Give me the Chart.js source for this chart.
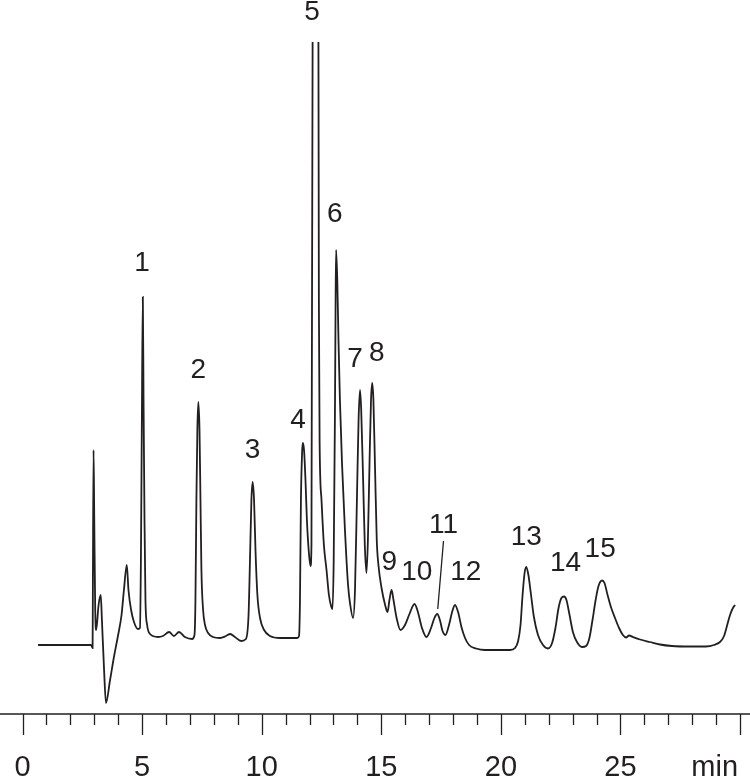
<!DOCTYPE html>
<html lang="en">
<head>
    <meta charset="UTF-8">
    <title>Chromatogram</title>
    <script src="https://cdn.jsdelivr.net/npm/chart.js"></script>
    <style>
        html, body { margin: 0; padding: 0; background: #fff; }
        #wrap { position: relative; width: 750px; height: 777px; }
    </style>
</head>
<body>
    <div id="wrap">
        <canvas id="chromChart"></canvas>
    </div>

    <script>
        // Detector trace (time in min, signal in arbitrary units)
        const retentionTime = [
            0.65, 1.57, 2.86, 2.93, 2.94, 2.97, 3.00, 3.04, 3.08, 3.18, 3.27, 3.32, 3.41, 3.49, 3.66, 3.83,
            3.99, 4.14, 4.24, 4.36, 4.43, 4.54, 4.66, 4.83, 4.91, 4.95, 4.99, 5.03, 5.06, 5.10, 5.14, 5.21,
            5.33, 5.67, 5.87, 6.13, 6.33, 6.54, 6.79, 7.09, 7.19, 7.23, 7.27, 7.31, 7.35, 7.40, 7.44, 7.48,
            7.55, 7.63, 7.76, 7.96, 8.26, 8.51, 8.68, 8.88, 9.14, 9.34, 9.45, 9.51, 9.57, 9.62, 9.68, 9.74,
            9.82, 9.93, 10.10, 10.35, 10.77, 11.48, 11.56, 11.60, 11.64, 11.69, 11.72, 11.77, 11.83, 11.89,
            11.98, 12.04, 12.08, 12.13, 12.25, 12.37, 12.39, 12.42, 12.50, 12.60, 12.71, 12.81, 12.90, 12.96,
            13.01, 13.06, 13.09, 13.11, 13.16, 13.21, 13.27, 13.36, 13.48, 13.61, 13.69, 13.82, 13.90, 13.98,
            14.05, 14.11, 14.16, 14.24, 14.31, 14.38, 14.44, 14.51, 14.57, 14.62, 14.67, 14.74, 14.81, 14.88,
            15.01, 15.16, 15.26, 15.34, 15.43, 15.51, 15.64, 15.80, 15.99, 16.16, 16.39, 16.53, 16.70, 16.89,
            17.08, 17.22, 17.34, 17.45, 17.56, 17.68, 17.83, 17.96, 18.08, 18.21, 18.35, 18.50, 18.67, 18.96,
            19.34, 19.96, 20.38, 20.59, 20.72, 20.82, 20.90, 20.99, 21.06, 21.15, 21.26, 21.38, 21.55, 21.76,
            21.97, 22.14, 22.28, 22.41, 22.53, 22.64, 22.74, 22.87, 23.01, 23.18, 23.39, 23.56, 23.70, 23.83,
            23.96, 24.08, 24.23, 24.33, 24.46, 24.60, 24.77, 24.94, 25.10, 25.23, 25.36, 25.52, 25.82, 26.23,
            26.65, 27.15, 27.91, 28.57, 28.91, 29.16, 29.33, 29.45, 29.58, 29.70, 29.79
        ];
        const signal = [
            0, 0, 0, -0.3, 4.5, 19.5, 12.5, 3.5, 1.5, 4.0, 5.0, 2.5, -2.5, -5.8, -3.5, -1.1,
            0.9, 3.0, 5.5, 8.0, 5.5, 3.5, 2.3, 1.6, 1.7, 8.5, 22.5, 34.8, 24.5, 12.5, 4.5, 2.0,
            1.1, 0.8, 0.9, 1.3, 0.9, 1.3, 0.8, 0.6, 1.0, 4.5, 14.5, 21.5, 24.3, 21.5, 14.5, 7.5,
            3.5, 2.0, 1.2, 0.8, 0.7, 0.9, 1.1, 0.8, 0.4, 0.6, 3.0, 8.5, 14.5, 16.3, 14.5, 9.5,
            5.0, 2.7, 1.5, 0.9, 0.7, 0.7, 0.9, 4.5, 14.5, 19.3, 20.2, 19.5, 16.5, 12.5,
            9.0, 7.9, 10.0, 62, 70, 62, 34.5, 20.5, 14.5, 10.0, 7.5, 5.0, 3.9, 3.6,
            8.5, 22.5, 34.5, 39.5, 36.5, 30.5, 24.5, 18.0, 11.5, 6.0, 4.2, 2.7, 5.5, 14.5,
            22.5, 25.5, 23.5, 16.5, 10.0, 7.2, 10.5, 18.5, 24.5, 26.2, 24.5, 17.5, 10.5, 8.0,
            5.7, 4.0, 3.3, 4.5, 5.5, 4.5, 2.7, 1.5, 2.0, 3.0, 4.1, 3.3, 1.7, 0.8,
            1.7, 2.7, 3.1, 2.5, 1.4, 1.0, 2.0, 3.3, 4.0, 3.3, 1.8, 0.7, 0, -0.35,
            -0.5, -0.5, -0.5, -0.3, 0.4, 2.0, 4.8, 7.2, 7.8, 7.0, 5.0, 2.8, 1.0, 0,
            -0.35, 0.2, 1.7, 3.7, 4.7, 4.85, 4.5, 3.0, 1.3, 0.3, -0.2, -0.1, 0.7, 2.5,
            4.5, 5.9, 6.45, 6.2, 5.0, 3.8, 2.7, 1.7, 1.0, 0.75, 0.95, 0.8, 0.55, 0.3,
            0.05, -0.1, -0.15, -0.15, 0, 0.3, 0.9, 1.9, 3.0, 3.7, 4.0
        ];

        // Peak numbers and where their labels sit (time, signal level)
        const peakNames = ['1', '2', '3', '4', '5', '6', '7', '8', '9', '10', '11', '12', '13', '14', '15'];
        const labelTime = [5.00, 7.35, 9.62, 11.52, 12.10, 13.06, 13.90, 14.81, 15.33, 16.48, 17.60, 18.53, 21.06, 22.70, 24.15];
        const labelLevel = [38.2, 27.5, 19.5, 22.5, 63.3, 43.1, 28.6, 29.2, 8.3, 7.3, 12.0, 7.3, 10.8, 8.2, 9.6];
        // leader line from label 11 down to its peak
        const leaderTime = [17.60, 17.36];
        const leaderLevel = [10.4, 3.6];

        // Time axis
        const majorTicks = [0, 5, 10, 15, 20, 25];
        const minorStep = 1;
        const axisEnd = 30;
        const axisUnit = 'min';

        const points = retentionTime.map((t, i) => ({ x: t, y: signal[i] }));

        const FONT = '"Liberation Sans", Arial, Helvetica, sans-serif';
        const INK = '#231f20';

        const axisPlugin = {
            id: 'timeAxis',
            afterDraw(chart) {
                const ctx = chart.ctx;
                const xs = chart.scales.x;
                const ys = chart.scales.y;
                const axisY = chart.chartArea.bottom;

                ctx.save();
                ctx.strokeStyle = INK;
                ctx.fillStyle = INK;

                // axis line
                ctx.lineWidth = 1.5;
                ctx.beginPath();
                ctx.moveTo(0, axisY);
                ctx.lineTo(chart.width, axisY);
                ctx.stroke();

                // ticks
                ctx.lineWidth = 1.3;
                for (let t = 0; t <= axisEnd; t += minorStep) {
                    const x = Math.round(xs.getPixelForValue(t)) + 0.5;
                    const len = t % 5 === 0 ? 21 : 11;
                    ctx.beginPath();
                    ctx.moveTo(x, axisY);
                    ctx.lineTo(x, axisY + len);
                    ctx.stroke();
                }

                // tick labels
                ctx.font = '29px ' + FONT;
                ctx.textAlign = 'center';
                ctx.textBaseline = 'alphabetic';
                majorTicks.forEach(t => {
                    ctx.fillText(String(t), xs.getPixelForValue(t), axisY + 62);
                });
                ctx.textAlign = 'right';
                ctx.fillText(axisUnit, xs.getPixelForValue(axisEnd) - 2, axisY + 62);

                // peak labels
                ctx.font = '28px ' + FONT;
                ctx.textAlign = 'center';
                ctx.textBaseline = 'middle';
                peakNames.forEach((name, i) => {
                    ctx.fillText(name, xs.getPixelForValue(labelTime[i]), ys.getPixelForValue(labelLevel[i]));
                });

                // leader for peak 11
                ctx.lineWidth = 1.3;
                ctx.beginPath();
                ctx.moveTo(xs.getPixelForValue(leaderTime[0]), ys.getPixelForValue(leaderLevel[0]));
                ctx.lineTo(xs.getPixelForValue(leaderTime[1]), ys.getPixelForValue(leaderLevel[1]));
                ctx.stroke();

                ctx.restore();
            }
        };

        const ctx = document.getElementById('chromChart').getContext('2d');
        new Chart(ctx, {
            type: 'line',
            data: {
                datasets: [{
                    data: points,
                    borderColor: INK,
                    borderWidth: 1.8,
                    pointRadius: 0,
                    fill: false,
                    cubicInterpolationMode: 'monotone'
                }]
            },
            options: {
                responsive: true,
                maintainAspectRatio: false,
                animation: false,
                events: [],
                layout: {
                    padding: { top: 42, bottom: 63, left: 0, right: 0 }
                },
                plugins: {
                    legend: { display: false },
                    tooltip: { enabled: false }
                },
                scales: {
                    x: {
                        type: 'linear',
                        min: -0.941,
                        max: 30.414,
                        display: false
                    },
                    y: {
                        min: -6.9,
                        max: 60.3,
                        display: false
                    }
                }
            },
            plugins: [axisPlugin]
        });
    </script>
</body>
</html>
